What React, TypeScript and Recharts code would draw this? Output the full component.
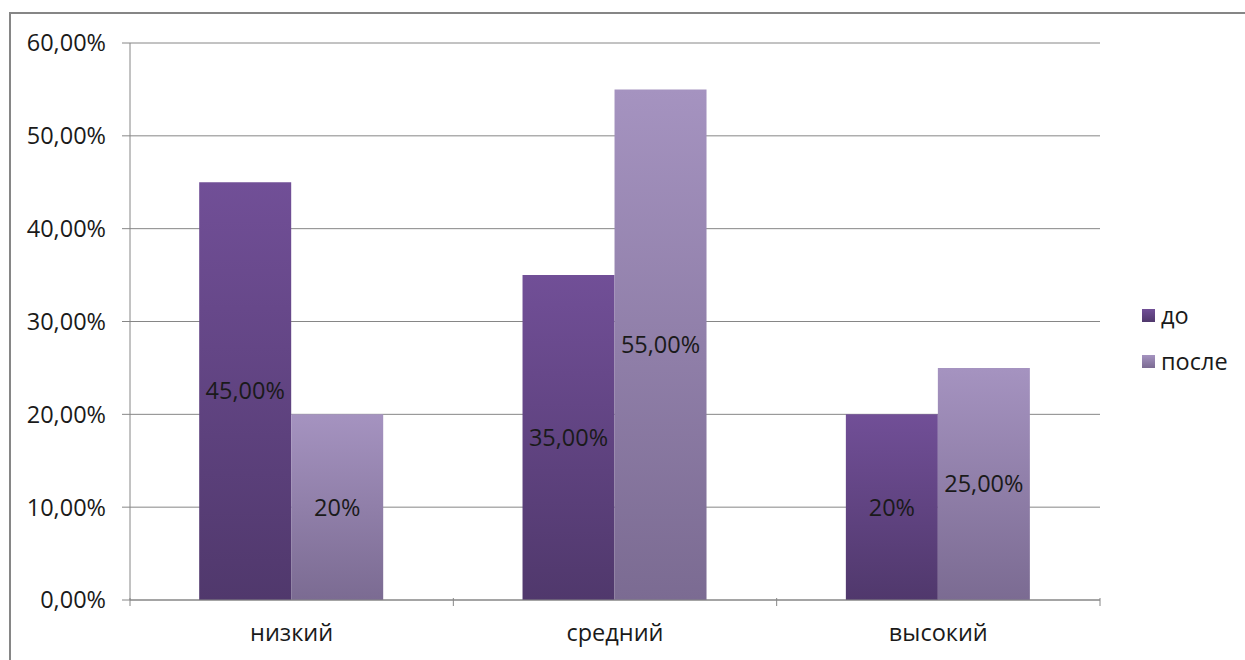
import React from "react";
import {BarChart, Bar, XAxis, YAxis, CartesianGrid, Legend, LabelList} from "recharts";

// levels and shares before / after
const levels = ["низкий", "средний", "высокий"];
const before = [0.45, 0.35, 0.2];
const after = [0.2, 0.55, 0.25];
const beforeLabels = ["45,00%", "35,00%", "20%"];
const afterLabels = ["20%", "55,00%", "25,00%"];
const yTicks = [0, 0.1, 0.2, 0.3, 0.4, 0.5, 0.6];

const seriesNames = {before: "до", after: "после"};

const data = levels.map((level, i) => ({
  level,
  before: before[i],
  after: after[i],
  beforeLabel: beforeLabels[i],
  afterLabel: afterLabels[i],
}));

const FONT = "'Open Sans', sans-serif";
const FS = 23.5;
const AXIS_GRAY = "#868686";
const TEXT = "#1a1a1a";

const W = 1245;
const H = 660;
const MARGIN = {top: 43, right: 145, bottom: 0, left: 0};
const Y_AXIS_W = 130;

function pct(v: number): string {
  return (v * 100).toFixed(2).replace(".", ",") + "%";
}

// category label plus the little tick marks that sit on the band edges
function CategoryTick(props: any) {
  const {x, y, payload, index, visibleTicksCount} = props;
  const plotW = W - MARGIN.left - MARGIN.right - Y_AXIS_W;
  const half = payload?.offset || plotW / levels.length / 2;
  const last = index === (visibleTicksCount ?? levels.length) - 1;
  return (
    <g>
      <line x1={x - half} x2={x - half} y1={y - 2} y2={y + 6} stroke={AXIS_GRAY} strokeWidth={1} />
      {last && <line x1={x + half} x2={x + half} y1={y - 2} y2={y + 6} stroke={AXIS_GRAY} strokeWidth={1} />}
      <text x={x} y={y + 35} textAnchor="middle" dominantBaseline="middle" fill={TEXT} fontSize={FS} fontFamily={FONT}>
        {payload.value}
      </text>
    </g>
  );
}

function LegendBox() {
  const items = [
    {name: seriesNames.before, fill: "url(#gradBefore)"},
    {name: seriesNames.after, fill: "url(#gradAfter)"},
  ];
  return (
    <div style={{fontFamily: FONT, fontSize: FS, color: TEXT}}>
      {items.map((it) => (
        <div key={it.name} style={{display: "flex", alignItems: "center", height: 46}}>
          <svg width={13} height={13} style={{marginRight: 6}}>
            <rect width={13} height={13} fill={it.fill} />
          </svg>
          <span>{it.name}</span>
        </div>
      ))}
    </div>
  );
}

export default function App() {
  return (
    <div style={{position: "absolute", left: 0, top: 0, width: W, height: H, overflow: "hidden", background: "#fff"}}>
      <div
        style={{
          position: "absolute",
          left: 9,
          top: 12,
          width: W,
          height: H,
          border: `2px solid ${AXIS_GRAY}`,
          boxSizing: "border-box",
        }}
      />
      <BarChart
        width={W}
        height={H}
        data={data}
        margin={MARGIN}
        barGap={0}
        barCategoryGap="21.4%"
        style={{position: "absolute", left: 0, top: 0}}
      >
        <defs>
          <linearGradient id="gradBefore" x1="0" y1="0" x2="0" y2="1">
            <stop offset="0%" stopColor="#714f97" />
            <stop offset="100%" stopColor="#50386c" />
          </linearGradient>
          <linearGradient id="gradAfter" x1="0" y1="0" x2="0" y2="1">
            <stop offset="0%" stopColor="#a593c0" />
            <stop offset="100%" stopColor="#7b6b92" />
          </linearGradient>
        </defs>
        <CartesianGrid vertical={false} stroke={AXIS_GRAY} strokeWidth={1} />
        <XAxis
          dataKey="level"
          axisLine={{stroke: AXIS_GRAY}}
          tickLine={false}
          tickSize={0}
          tickMargin={0}
          height={60}
          tick={<CategoryTick />}
          interval={0}
        />
        <YAxis
          width={Y_AXIS_W}
          domain={[0, 0.6]}
          ticks={yTicks}
          tickFormatter={pct}
          axisLine={{stroke: AXIS_GRAY}}
          tickLine={{stroke: AXIS_GRAY}}
          tickSize={8}
          tickMargin={16}
          tick={{fill: TEXT, fontSize: FS, fontFamily: FONT}}
        />
        {/* horizontal layout keeps the legend from shrinking the plot area */}
        <Legend
          content={<LegendBox />}
          layout="horizontal"
          verticalAlign="middle"
          wrapperStyle={{position: "absolute", left: 1142, top: 292, width: 100}}
        />
        <Bar dataKey="before" name={seriesNames.before} fill="url(#gradBefore)" isAnimationActive={false}>
          <LabelList dataKey="beforeLabel" position="center" fill={TEXT} fontSize={FS} fontFamily={FONT} />
        </Bar>
        <Bar dataKey="after" name={seriesNames.after} fill="url(#gradAfter)" isAnimationActive={false}>
          <LabelList dataKey="afterLabel" position="center" fill={TEXT} fontSize={FS} fontFamily={FONT} />
        </Bar>
      </BarChart>
    </div>
  );
}
